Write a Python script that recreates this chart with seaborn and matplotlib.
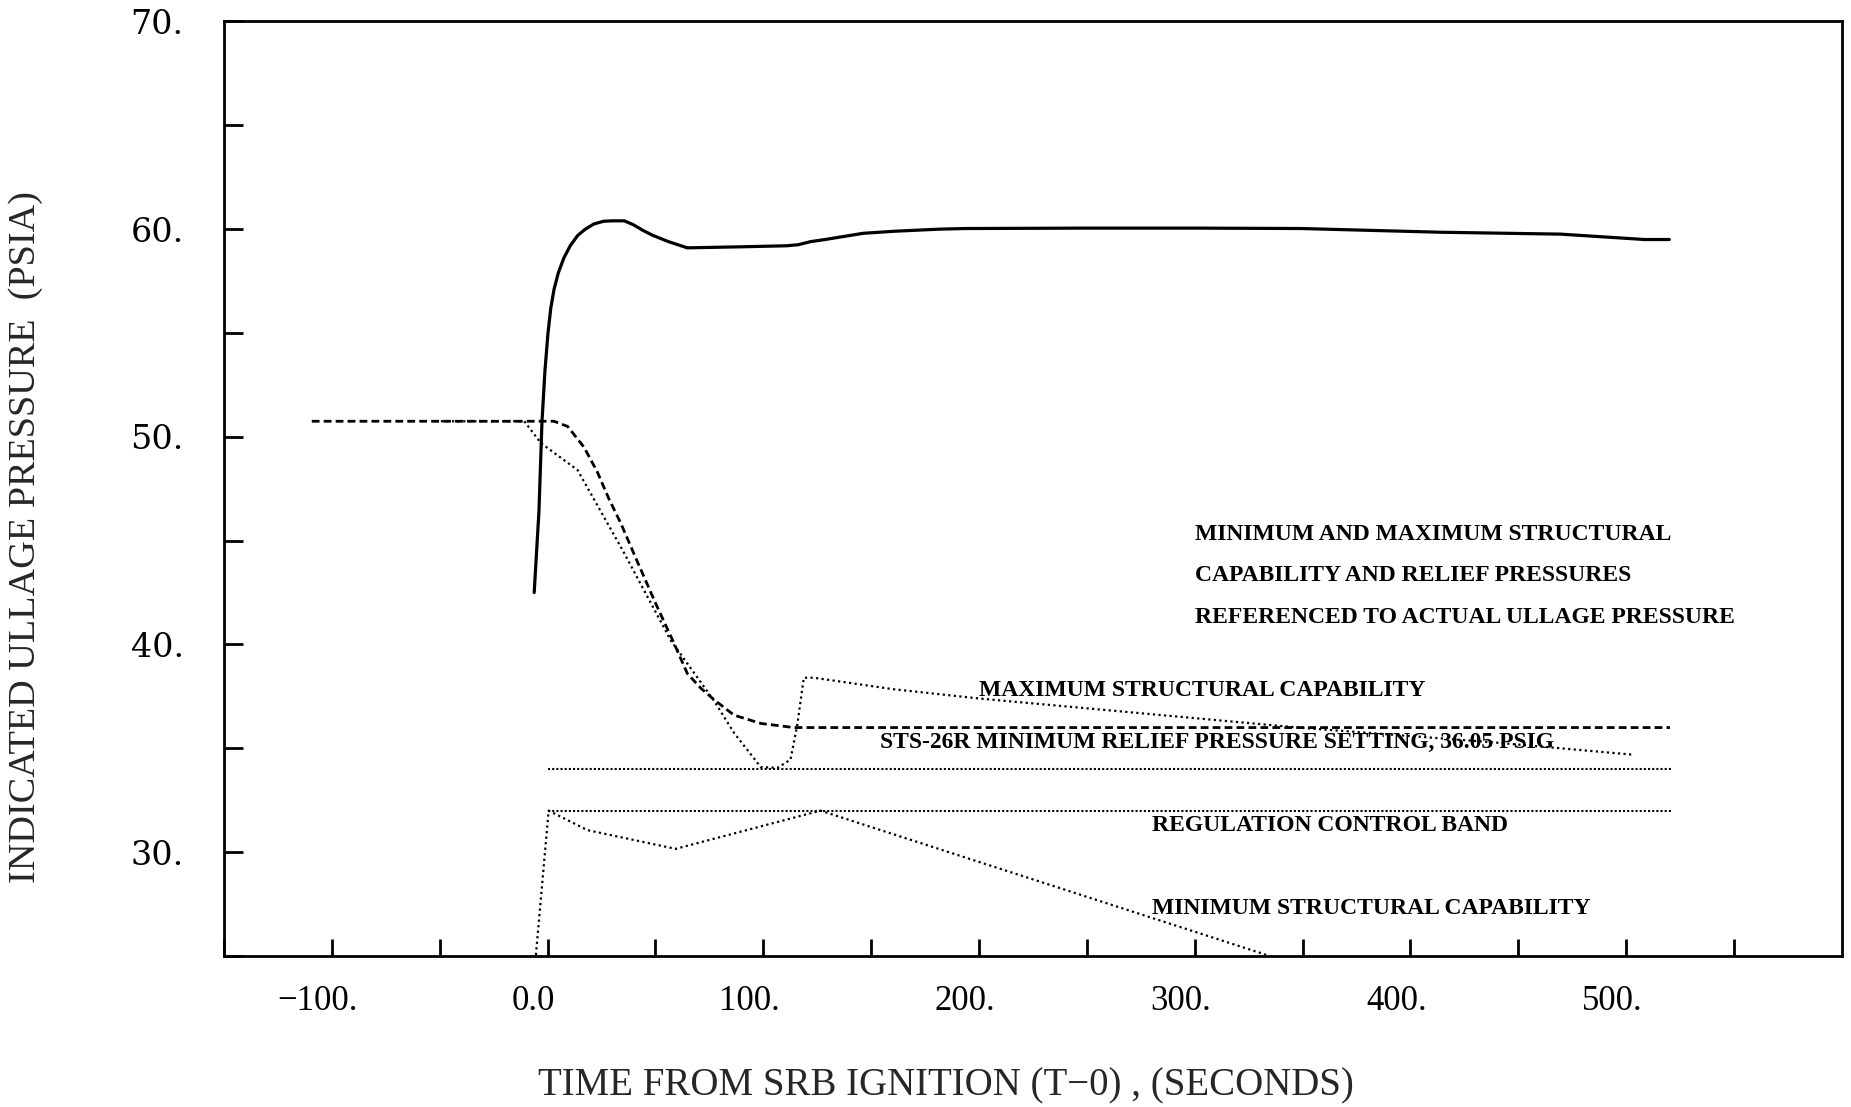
import numpy as np
import pandas as pd
import seaborn as sns
import matplotlib.pyplot as plt
from matplotlib.transforms import ScaledTranslation

# actual ullage pressure (solid)
t_actual = [-6.2, -4.0, -2.6, -1.2, 0.2, 1.5, 3.0, 5.0, 7.5, 10.5, 14.0, 17.5, 21.5,
            26.0, 30.0, 35.6, 40.0, 44.0, 48.8, 56.0, 64.8, 90.0, 110.9, 116.2, 122.0,
            128.6, 146.3, 161.0, 181.7, 193.6, 250.0, 300.0, 349.4, 414.4, 469.6,
            508.6, 520.0]
p_actual = [42.5, 46.4, 50.7, 53.2, 55.0, 56.2, 57.1, 57.9, 58.6, 59.2, 59.7, 60.0, 60.25,
            60.38, 60.4, 60.4, 60.2, 59.95, 59.7, 59.4, 59.1, 59.15, 59.2, 59.25, 59.4,
            59.5, 59.8, 59.9, 60.0, 60.03, 60.05, 60.05, 60.03, 59.85, 59.76,
            59.5, 59.5]

# minimum relief pressure (dashed)
t_relief = [-109.3, 3.0, 9.3, 16.9, 23.1, 28.5, 33.9, 42.0, 50.0, 58.0, 64.8, 71.0, 77.1,
            86.4, 98.8, 114.2, 520.3]
p_relief = [50.75, 50.75, 50.5, 49.5, 48.3, 47.0, 45.85, 43.9, 42.0, 40.2, 38.6, 37.9, 37.35,
            36.6, 36.2, 36.0, 36.0]

# maximum structural capability (dotted)
t_max = [-52.0, -10.8, -3.1, 13.9, 35.0, 57.1, 77.1, 86.4, 98.8, 106.5, 112.6, 115.7,
         118.8, 123.4, 160.0, 200.0, 348.0, 437.0, 502.5]
p_max = [50.75, 50.75, 49.7, 48.4, 44.5, 40.2, 37.3, 35.75, 34.1, 34.06, 34.45, 36.1,
         38.4, 38.4, 37.85, 37.4, 36.0, 35.3, 34.7]

# regulation control band
t_band = [0.0, 521.8]
p_band_hi = [34.0, 34.0]
p_band_lo = [32.0, 32.0]

# minimum structural capability (dotted)
t_min = [-5.4, 0.5, 18.5, 59.4, 126.5, 333.3]
p_min = [25.05, 32.0, 31.06, 30.16, 32.0, 25.05]

x_ticks = [-100, 0, 100, 200, 300, 400, 500]
x_ticklabels = ['\u2212100.', '0.0', '100.', '200.', '300.', '400.', '500.']
y_ticks = [30, 40, 50, 60, 70]
y_ticklabels = ['30.', '40.', '50.', '60.', '70.']

sns.set_style('ticks')
plt.rcParams['font.family'] = ['Liberation Serif', 'DejaVu Serif']

fig = plt.figure(figsize=(18.51, 11.07), dpi=100)
ax = fig.add_axes([0.1210, 0.1364, 0.8741, 0.8442])

dot = (0, (1, 1.5))
sns.lineplot(x=t_actual, y=p_actual, ax=ax, color='black', lw=2.3,
             estimator=None, sort=False)
sns.lineplot(x=t_relief, y=p_relief, ax=ax, color='black', lw=2.0,
             linestyle=(0, (2.8, 1.5)), estimator=None, sort=False)
sns.lineplot(x=t_max, y=p_max, ax=ax, color='black', lw=1.6,
             linestyle=dot, estimator=None, sort=False)
sns.lineplot(x=t_band, y=p_band_hi, ax=ax, color='black', lw=1.5,
             linestyle=(0, (1, 1)), estimator=None, sort=False)
sns.lineplot(x=t_band, y=p_band_lo, ax=ax, color='black', lw=1.5,
             linestyle=(0, (1, 1)), estimator=None, sort=False)
sns.lineplot(x=t_min, y=p_min, ax=ax, color='black', lw=1.6,
             linestyle=dot, estimator=None, sort=False)

ax.set_xlim(-150, 600)
ax.set_ylim(25, 70)

ax.set_xticks(x_ticks)
ax.set_xticks(np.arange(-150, 600, 50), minor=True)
ax.set_yticks(y_ticks)
ax.set_yticks(np.arange(25, 70, 5), minor=True)
ax.set_xticklabels(x_ticklabels, fontsize=25, family=['Liberation Serif'])
ax.set_yticklabels(y_ticklabels, fontsize=24, family=['DejaVu Serif'])

ax.tick_params(axis='x', which='both', direction='in', length=12, width=2,
               pad=21, colors='black', bottom=True, top=False)
ax.tick_params(axis='y', which='both', direction='in', length=13.5, width=2,
               pad=29, colors='black', left=True, right=False)
# x tick labels sit a bit left of their ticks in the original
for lbl in ax.get_xticklabels():
    lbl.set_transform(lbl.get_transform() + ScaledTranslation(-0.14, 0, fig.dpi_scale_trans))

for s in ax.spines.values():
    s.set_visible(True)
    s.set_linewidth(2)
    s.set_color('black')

ax.set_xlabel('TIME FROM SRB IGNITION (T\u22120) , (SECONDS)', fontsize=28)
ax.xaxis.set_label_coords(0.4462, -0.1391)
ax.xaxis.label.set_va('center')
ax.set_ylabel('INDICATED ULLAGE PRESSURE  (PSIA)', fontsize=27.5)
ax.yaxis.set_label_coords(-0.1224, 0.4484)
ax.yaxis.label.set_va('center')

tk = dict(fontsize=17, fontweight='bold', color='black', va='center', ha='left')
ax.text(300, 45.3, 'MINIMUM AND MAXIMUM STRUCTURAL', **tk)
ax.text(300, 43.3, 'CAPABILITY AND RELIEF PRESSURES', **tk)
ax.text(300, 41.3, 'REFERENCED TO ACTUAL ULLAGE PRESSURE', **tk)
ax.text(200, 37.8, 'MAXIMUM STRUCTURAL CAPABILITY', **tk)
ax.text(154, 35.3, 'STS-26R MINIMUM RELIEF PRESSURE SETTING, 36.05 PSIG', **tk)
ax.text(280, 31.3, 'REGULATION CONTROL BAND', **tk)
ax.text(280, 27.3, 'MINIMUM STRUCTURAL CAPABILITY', **tk)

fig.savefig('out.png', dpi=100)
